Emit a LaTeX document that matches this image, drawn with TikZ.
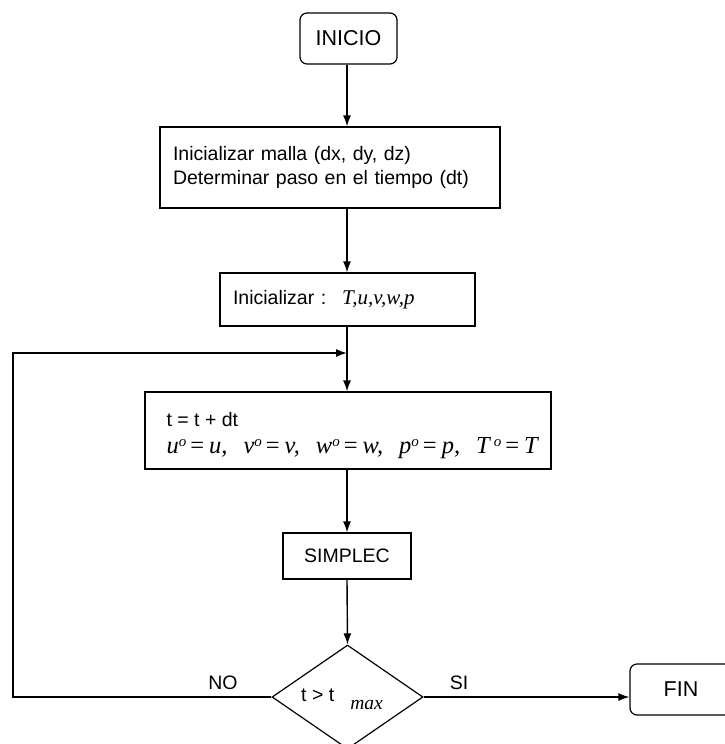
\documentclass[tikz,border=0pt]{standalone}
\usepackage{fontspec}
\setmainfont{Liberation Sans}
\newfontfamily\tms{Liberation Serif}
\usetikzlibrary{arrows.meta,shapes.geometric}
% raised small "o" used for the previous-step values
\newcommand\prev{\raisebox{7pt}{\fontsize{15}{15}\selectfont o}}
% equals sign and separators for the assignment line
\newcommand\eqs{\hspace{4pt}{\upshape=}\hspace{5pt}}
\newcommand\sepa{,\hspace{16pt}}

\begin{document}
\begin{tikzpicture}[x=1pt,y=-1pt,
  box/.style={draw, line width=1.2pt, rectangle, inner sep=0pt},
  rbox/.style={box, rounded corners=7pt},
  conn/.style={line width=1.4pt},
  arr/.style={conn, -{Latex[length=11pt,width=8pt]}},
  txt/.style={font=\fontsize{19.5}{23.5}\selectfont},
  big/.style={font=\fontsize{21.5}{25}\selectfont},
  ]
\useasboundingbox (0,0) rectangle (725,744);

% vertical axis of the main flow and the return line
\coordinate (axis) at (347,0);
\coordinate (lp) at (13,0);
\coordinate (join) at (347,353);

% blocks
\node[rbox, big, minimum width=97, minimum height=51] (ini) at (348.5,38.5) {INICIO};

\node[box, txt, minimum width=340, minimum height=81, text width=314, inner xsep=13pt, align=left] (mesh) at (330,167.5)
  {Inicializar malla (dx, dy, dz)\\Determinar paso en el tiempo (dt)};

\node[box, txt, minimum width=255, minimum height=53, text width=229, inner xsep=13pt, align=left] (init) at (347.5,299.5)
  {Inicializar :\hspace{16pt}{\fontsize{21}{24}\selectfont\tms\itshape T,u,v,w,p}};

\node[box, minimum width=406, minimum height=77] (adv) at (348,430.5) {};
\node[anchor=west, inner sep=0pt, align=left, font=\fontsize{19.5}{27}\selectfont] (advtxt) at ([xshift=22pt,yshift=-5pt]adv.west)
  {t = t + dt\\
   {\fontsize{24.5}{27}\selectfont\tms\itshape u\prev\eqs u\sepa v\prev\eqs v\sepa w\prev\eqs w\sepa p\prev\eqs p\sepa T\,\prev\eqs T}};

\node[box, txt, minimum width=128, minimum height=46] (simp) at (347,556) {SIMPLEC};

\node[diamond, draw, line width=1.2pt, minimum width=151, minimum height=104, inner sep=0pt] (dec) at (347.5,697) {};
\node[txt, inner sep=0pt] (cond) at (342,699)
  {t > t\hspace{16pt}\raisebox{-8pt}{\tms\itshape max}};

\node[rbox, big, minimum width=102, minimum height=51] (fin) at (681,689.5) {FIN};

% branch labels
\node[txt] (no) at (223,683) {NO};
\node[txt] (si) at (459,683) {SI};

% connectors
\draw[arr] (ini.south -| axis) -- (mesh.north -| axis);
\draw[arr] (mesh.south -| axis) -- (init.north -| axis);
\draw[conn] (init.south -| axis) -- (join);
\draw[arr] (join) -- (adv.north -| axis);
\draw[arr] (adv.south -| axis) -- (simp.north -| axis);
\draw[arr] (simp.south -| axis) -- (dec.north);
\draw[arr] (dec.west) -- (dec.west -| lp) -- (join -| lp) -- (join);
\draw[arr] (dec.east) -- (dec.east -| fin.west);
\end{tikzpicture}
\end{document}
